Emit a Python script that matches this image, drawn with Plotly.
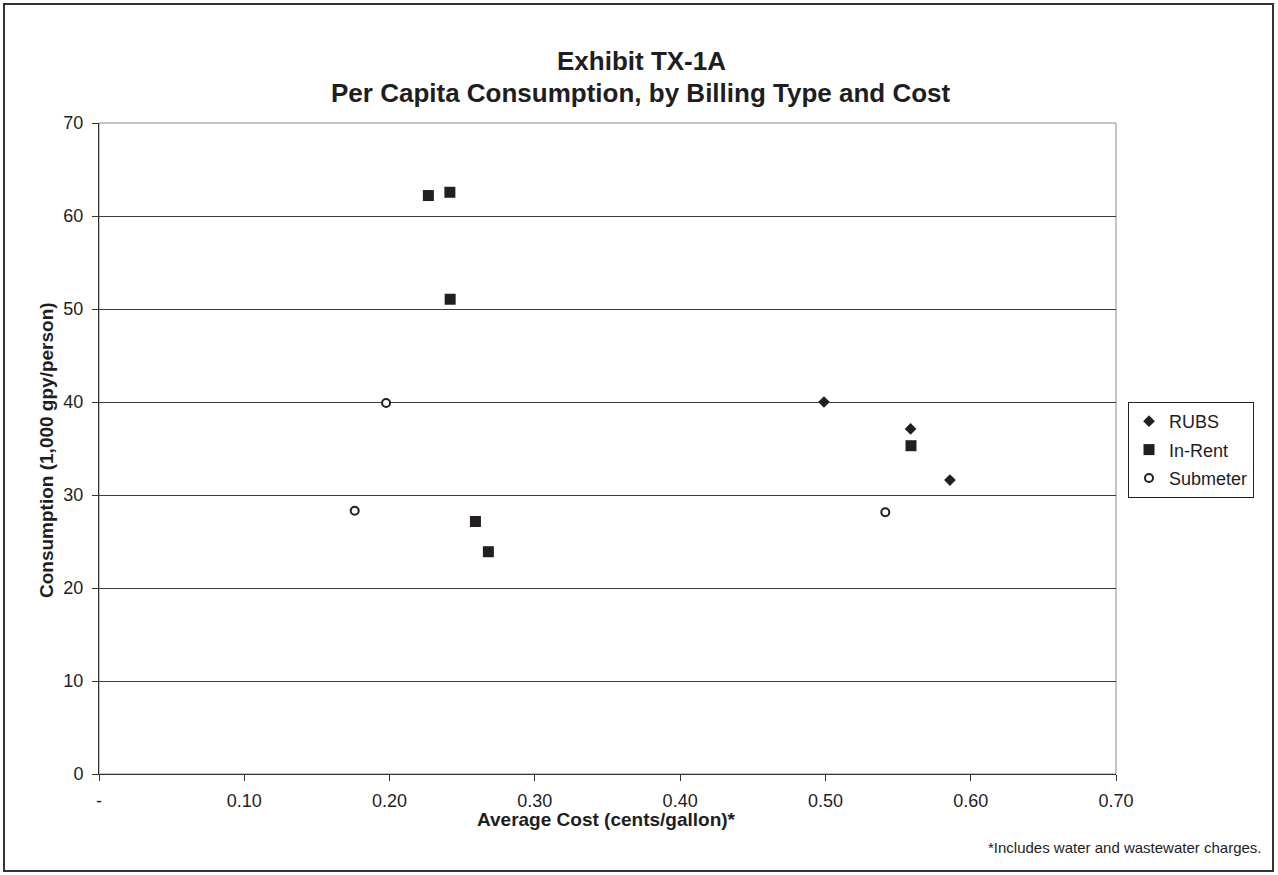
import plotly.graph_objects as go

# Average cost (cents/gallon) and per-capita consumption (1,000 gpy/person)
rubs_cost = [0.499, 0.5586, 0.5857]
rubs_cons = [40.0, 37.1, 31.6]

inrent_cost = [0.2267, 0.2415, 0.2417, 0.2591, 0.2680, 0.5589]
inrent_cons = [62.2, 62.55, 51.05, 27.15, 23.9, 35.3]

submeter_cost = [0.1976, 0.1760, 0.5412]
submeter_cons = [39.9, 28.3, 28.15]

x_tick_vals = [0, 0.1, 0.2, 0.3, 0.4, 0.5, 0.6, 0.7]
x_tick_text = ["-", "0.10", "0.20", "0.30", "0.40", "0.50", "0.60", "0.70"]
y_tick_vals = [0, 10, 20, 30, 40, 50, 60, 70]

FONT = "Liberation Sans"
INK = "#231f20"
TXT = "#1e1e1e"

fig = go.Figure()
fig.add_trace(go.Scatter(
    x=rubs_cost, y=rubs_cons, mode="markers", name="RUBS", legendgroup="a",
    marker=dict(symbol="diamond", size=9, color=INK, line=dict(width=0)),
))
fig.add_trace(go.Scatter(
    x=inrent_cost, y=inrent_cons, mode="markers", name="In-Rent", legendgroup="b",
    marker=dict(symbol="square", size=11, color=INK, line=dict(width=0)),
))
fig.add_trace(go.Scatter(
    x=submeter_cost, y=submeter_cons, mode="markers", name="Submeter", legendgroup="c",
    marker=dict(symbol="circle", size=8, color="white", line=dict(width=2, color=INK)),
))

L, R, T, B = 99, 1116, 123, 774
W, H = 1278, 875

def px_to_paper_x(px):
    return (px - L) / (R - L)

def px_to_paper_y(py):
    return (B - py) / (B - T)

fig.update_layout(
    width=W, height=H,
    margin=dict(l=L, r=W - R, t=T, b=H - B, pad=0),
    paper_bgcolor="white", plot_bgcolor="white",
    font=dict(family=FONT, size=18, color=TXT),
    showlegend=True,
    legend=dict(
        x=px_to_paper_x(1128), y=px_to_paper_y(402), xanchor="left", yanchor="top",
        bordercolor="#222", borderwidth=1, bgcolor="white",
        font=dict(size=18, family=FONT, color=TXT),
        tracegroupgap=2, itemwidth=30,
    ),
    xaxis=dict(
        range=[0, 0.7], tickvals=x_tick_vals, ticktext=x_tick_text,
        showgrid=False, zeroline=False,
        showline=True, linecolor="#333", linewidth=1,
        ticks="outside", ticklen=6, tickcolor="#333", tickwidth=1,
        ticklabelstandoff=4,
        tickfont=dict(size=18, family=FONT, color=TXT),
    ),
    yaxis=dict(
        range=[0, 70], tickvals=y_tick_vals,
        showgrid=True, gridcolor="#3a3a3a", gridwidth=1,
        zeroline=False,
        showline=True, linecolor="#333", linewidth=1,
        ticks="outside", ticklen=6, tickcolor="#333", tickwidth=1,
        ticklabelstandoff=5,
        tickfont=dict(size=18, family=FONT, color=TXT),
    ),
    shapes=[
        # plot area frame (gray top and right edges)
        dict(type="rect", xref="paper", yref="paper", x0=0, x1=1, y0=0, y1=1,
             line=dict(color="#8a8a8a", width=1), layer="below"),
        # outer chart frame
        dict(type="rect", xref="paper", yref="paper",
             x0=px_to_paper_x(4), x1=px_to_paper_x(1273),
             y0=px_to_paper_y(871), y1=px_to_paper_y(4),
             line=dict(color="#333", width=2), layer="below"),
    ],
    annotations=[
        dict(text="<b>Exhibit TX-1A</b>",
             xref="paper", yref="paper", x=px_to_paper_x(641), y=px_to_paper_y(61),
             xanchor="center", yanchor="middle", showarrow=False,
             font=dict(size=26, family=FONT, color=TXT)),
        dict(text="<b>Per Capita Consumption, by Billing Type and Cost</b>",
             xref="paper", yref="paper", x=px_to_paper_x(641), y=px_to_paper_y(93),
             xanchor="center", yanchor="middle", showarrow=False,
             font=dict(size=26, family=FONT, color=TXT)),
        dict(text="<b>Average Cost (cents/gallon)*</b>",
             xref="paper", yref="paper", x=px_to_paper_x(606), y=px_to_paper_y(819),
             xanchor="center", yanchor="middle", showarrow=False,
             font=dict(size=19, family=FONT, color=TXT)),
        dict(text="<b>Consumption (1,000 gpy/person)</b>", textangle=-90,
             xref="paper", yref="paper", x=px_to_paper_x(47), y=px_to_paper_y(450),
             xanchor="center", yanchor="middle", showarrow=False,
             font=dict(size=19, family=FONT, color=TXT)),
        dict(text="*Includes water and wastewater charges.",
             xref="paper", yref="paper", x=px_to_paper_x(1263), y=px_to_paper_y(847),
             xanchor="right", yanchor="middle", showarrow=False,
             font=dict(size=15, family=FONT, color=TXT)),
    ],
)

fig.write_html("out.html")
